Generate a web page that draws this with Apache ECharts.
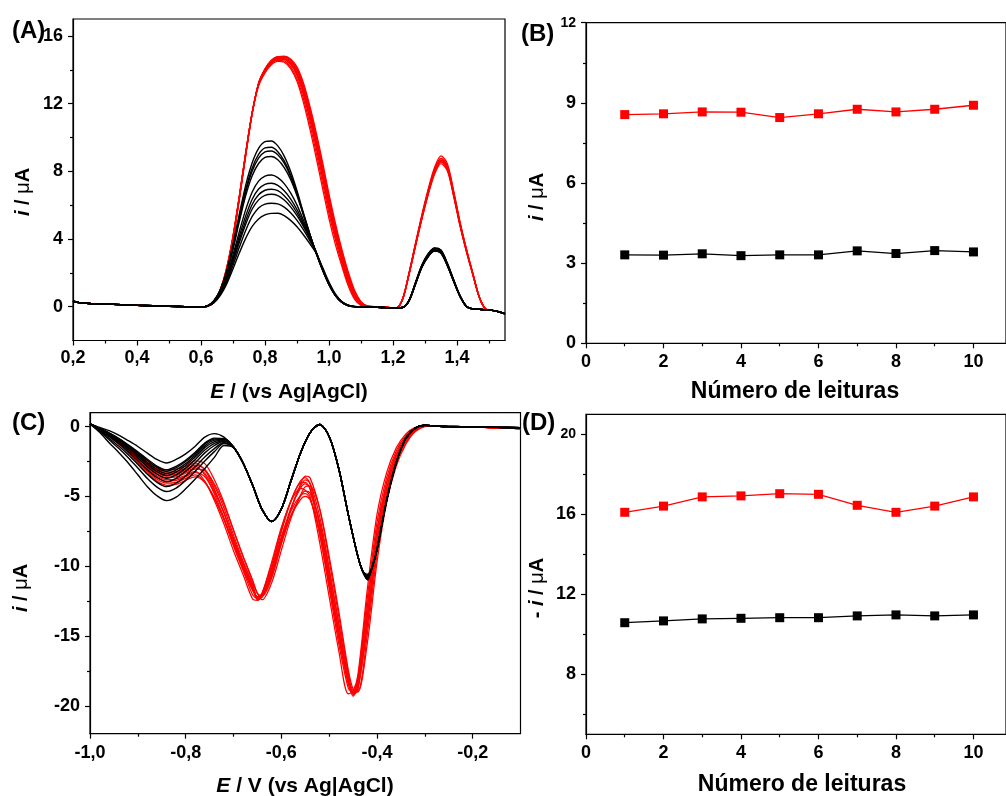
<!DOCTYPE html>
<html>
<head>
<meta charset="utf-8">
<script src="https://cdn.jsdelivr.net/npm/echarts@6/dist/echarts.min.js"></script>
<style>
  html, body { margin: 0; padding: 0; background: #fff; }
  #chart { width: 1006px; height: 796px; }
</style>
</head>
<body>
<div id="chart"></div>
<script>
// ---------- (A) anodic scans: potential grid pieces (V) ----------
const potA_lead = [0.20, 0.22, 0.25, 0.30, 0.35, 0.40, 0.45, 0.50, 0.55, 0.60];
const iA_lead   = [0.32, 0.24, 0.19, 0.15, 0.12, 0.08, 0.05, 0.02, 0.00, -0.02];
const potA_p1   = [0.62, 0.64, 0.66, 0.68, 0.70, 0.72, 0.74, 0.76, 0.78, 0.80, 0.82, 0.84, 0.86,
                   0.88, 0.90, 0.92, 0.94, 0.96, 0.98, 1.00, 1.02, 1.04, 1.06, 1.08, 1.10, 1.12];
const potA_gap  = [1.15, 1.18, 1.21];
const gapA_black = [-0.04, -0.06, -0.08];
const gapA_red   = [-0.01, -0.04, -0.08];
const potA_p2   = [1.23, 1.25, 1.27, 1.29, 1.31, 1.33, 1.35, 1.37, 1.39, 1.41, 1.43, 1.45, 1.47, 1.49];
const potA_tail = [1.51, 1.53, 1.55];
const iA_tail   = [-0.22, -0.30, -0.42];

// first oxidation peak, black scans
const blackA_p1 = [
  [0.04,0.35,1.00,2.10,3.70,5.50,7.20,8.50,9.35,9.75,9.79,9.50,8.90,8.00,6.85,5.55,4.30,3.15,2.15,1.30,0.65,0.25,0.07,0.00,-0.02,-0.03],
  [0.04,0.34,0.97,2.03,3.57,5.32,6.95,8.20,9.00,9.38,9.42,9.16,8.62,7.80,6.72,5.48,4.28,3.16,2.16,1.31,0.66,0.26,0.07,0.00,-0.02,-0.03],
  [0.04,0.33,0.95,1.98,3.48,5.20,6.80,8.02,8.78,9.15,9.20,8.98,8.48,7.70,6.66,5.46,4.28,3.17,2.17,1.31,0.66,0.26,0.07,0.00,-0.02,-0.03],
  [0.04,0.32,0.92,1.92,3.38,5.05,6.58,7.74,8.46,8.82,8.87,8.68,8.22,7.52,6.56,5.42,4.28,3.18,2.18,1.32,0.67,0.26,0.07,0.00,-0.02,-0.03],
  [0.03,0.29,0.84,1.75,3.05,4.45,5.75,6.78,7.42,7.72,7.78,7.63,7.27,6.72,6.00,5.12,4.18,3.20,2.20,1.33,0.67,0.27,0.07,0.00,-0.02,-0.03],
  [0.03,0.28,0.80,1.67,2.88,4.18,5.38,6.35,6.95,7.23,7.29,7.17,6.85,6.37,5.73,4.96,4.12,3.21,2.21,1.33,0.67,0.27,0.07,0.00,-0.02,-0.03],
  [0.03,0.27,0.77,1.60,2.74,3.97,5.11,6.04,6.61,6.88,6.94,6.85,6.56,6.12,5.55,4.84,4.07,3.22,2.22,1.34,0.68,0.27,0.07,0.00,-0.02,-0.03],
  [0.03,0.26,0.75,1.54,2.63,3.80,4.89,5.77,6.31,6.58,6.64,6.56,6.30,5.90,5.38,4.74,4.02,3.22,2.23,1.35,0.68,0.28,0.08,0.00,-0.02,-0.03],
  [0.03,0.24,0.70,1.44,2.44,3.52,4.52,5.33,5.83,6.06,6.11,6.07,5.88,5.55,5.10,4.55,3.90,3.20,2.25,1.38,0.70,0.28,0.08,0.01,-0.02,-0.03],
  [0.03,0.22,0.65,1.33,2.23,3.18,4.05,4.74,5.18,5.42,5.51,5.52,5.38,5.10,4.72,4.25,3.72,3.15,2.32,1.45,0.75,0.30,0.09,0.01,-0.02,-0.03]
];
// second oxidation peak, black scans
const blackA_p2 = [
  [-0.05,0.35,1.34,2.34,2.98,3.31,3.18,2.44,1.49,0.60,0.00,-0.14,-0.16,-0.18],
  [-0.05,0.34,1.33,2.33,2.97,3.30,3.17,2.43,1.49,0.59,0.00,-0.14,-0.16,-0.18],
  [-0.05,0.36,1.37,2.37,3.02,3.35,3.22,2.47,1.51,0.61,0.01,-0.14,-0.16,-0.18],
  [-0.05,0.33,1.31,2.31,2.95,3.28,3.16,2.42,1.48,0.59,0.00,-0.14,-0.16,-0.18],
  [-0.06,0.32,1.31,2.32,2.98,3.31,3.19,2.46,1.51,0.61,0.01,-0.14,-0.16,-0.18],
  [-0.04,0.38,1.38,2.37,3.00,3.31,3.17,2.42,1.47,0.58,-0.01,-0.14,-0.16,-0.18],
  [-0.05,0.37,1.41,2.45,3.12,3.46,3.33,2.55,1.56,0.62,0.01,-0.14,-0.16,-0.18],
  [-0.05,0.35,1.36,2.37,3.03,3.36,3.23,2.47,1.51,0.60,0.00,-0.14,-0.16,-0.18],
  [-0.05,0.36,1.40,2.45,3.13,3.47,3.34,2.56,1.57,0.63,0.01,-0.14,-0.16,-0.18],
  [-0.05,0.36,1.39,2.42,3.09,3.42,3.29,2.52,1.54,0.61,0.01,-0.14,-0.16,-0.18]
];
// first oxidation peak, red scans
const redA_p1 = [
  [0.02,0.26,0.98,2.25,4.15,6.55,9.10,11.45,13.08,13.85,14.35,14.55,14.53,14.17,13.47,12.30,10.80,9.10,7.30,5.50,3.96,2.56,1.37,0.52,0.10,0.00],
  [0.02,0.25,0.95,2.20,4.10,6.50,9.10,11.48,13.15,13.92,14.40,14.60,14.60,14.30,13.65,12.55,11.08,9.42,7.60,5.77,4.15,2.72,1.50,0.60,0.13,0.01],
  [0.02,0.25,0.95,2.20,4.10,6.50,9.10,11.48,13.18,13.96,14.45,14.65,14.65,14.40,13.80,12.70,11.27,9.63,7.84,6.00,4.35,2.90,1.65,0.70,0.18,0.02],
  [0.02,0.25,0.92,2.15,4.05,6.45,9.05,11.45,13.18,13.98,14.48,14.70,14.72,14.52,13.96,12.91,11.50,9.87,8.08,6.22,4.55,3.07,1.79,0.79,0.22,0.03],
  [0.02,0.24,0.90,2.12,4.00,6.40,9.00,11.42,13.20,14.02,14.53,14.73,14.75,14.58,14.07,13.08,11.70,10.09,8.31,6.44,4.74,3.24,1.93,0.88,0.26,0.04],
  [0.02,0.23,0.88,2.08,3.95,6.35,8.95,11.40,13.20,14.05,14.56,14.78,14.80,14.64,14.17,13.23,11.88,10.30,8.54,6.66,4.94,3.41,2.07,0.97,0.30,0.05],
  [0.03,0.27,1.00,2.30,4.20,6.60,9.15,11.45,13.05,13.82,14.30,14.50,14.45,14.07,13.32,12.07,10.52,8.80,6.98,5.20,3.67,2.40,1.23,0.43,0.07,0.00],
  [0.02,0.25,0.94,2.18,4.08,6.48,9.07,11.45,13.14,13.92,14.41,14.62,14.63,14.40,13.86,12.82,11.40,9.77,7.98,6.13,4.47,3.00,1.73,0.75,0.20,0.02],
  [0.02,0.25,0.96,2.22,4.12,6.52,9.12,11.50,13.18,13.97,14.47,14.68,14.66,14.37,13.74,12.60,11.14,9.48,7.67,5.83,4.20,2.78,1.56,0.64,0.15,0.01],
  [0.02,0.24,0.91,2.14,4.03,6.43,9.03,11.45,13.22,14.04,14.55,14.77,14.78,14.57,14.02,13.01,11.61,9.99,8.22,6.35,4.66,3.17,1.87,0.84,0.24,0.03]
];
// second oxidation peak, red scans
const redA_p2 = [
  [0.44,1.92,3.59,5.22,6.69,7.92,8.56,8.12,6.54,4.77,3.25,1.87,0.54,-0.15],
  [0.44,1.92,3.60,5.23,6.71,7.95,8.59,8.14,6.56,4.79,3.26,1.88,0.54,-0.15],
  [0.45,1.94,3.63,5.27,6.77,8.01,8.66,8.21,6.62,4.83,3.28,1.89,0.55,-0.15],
  [0.45,1.94,3.63,5.27,6.76,8.00,8.65,8.20,6.61,4.82,3.28,1.89,0.55,-0.15],
  [0.44,1.89,3.54,5.15,6.60,7.82,8.45,8.01,6.46,4.71,3.20,1.84,0.53,-0.15],
  [0.42,1.88,3.56,5.20,6.70,7.96,8.59,8.17,6.62,4.84,3.30,1.90,0.56,-0.14],
  [0.45,1.96,3.68,5.34,6.85,8.11,8.76,8.31,6.70,4.88,3.32,1.91,0.55,-0.15],
  [0.47,1.98,3.68,5.30,6.78,8.00,8.66,8.18,6.58,4.78,3.24,1.85,0.52,-0.16],
  [0.43,1.92,3.64,5.32,6.85,8.12,8.76,8.33,6.74,4.93,3.36,1.95,0.58,-0.14],
  [0.46,2.00,3.74,5.43,6.96,8.24,8.91,8.45,6.81,4.97,3.38,1.95,0.56,-0.15]
];

// ---------- (B) second anodic peak current per reading ----------
const readings    = [1, 2, 3, 4, 5, 6, 7, 8, 9, 10];
const peakB_red   = [8.56, 8.59, 8.66, 8.65, 8.45, 8.59, 8.76, 8.66, 8.76, 8.91];
const peakB_black = [3.31, 3.30, 3.35, 3.28, 3.31, 3.31, 3.46, 3.36, 3.47, 3.42];

// ---------- (C) cathodic scans ----------
const potC_lead = [-1.00,-0.98,-0.96,-0.94,-0.92,-0.90,-0.88,-0.86,-0.84,-0.82,-0.80,-0.78,-0.76,-0.74,-0.72,-0.70];
const blackC_lead = [
  [0.2,-0.05,-0.28,-0.60,-1.00,-1.42,-1.90,-2.35,-2.60,-2.35,-1.95,-1.40,-0.75,-0.50,-0.75,-1.45],
  [0.2,-0.12,-0.44,-0.83,-1.30,-1.80,-2.34,-2.83,-3.10,-2.85,-2.41,-1.84,-1.17,-0.82,-0.86,-1.46],
  [0.2,-0.13,-0.47,-0.88,-1.36,-1.87,-2.43,-2.93,-3.20,-2.95,-2.50,-1.92,-1.25,-0.88,-0.88,-1.46],
  [0.2,-0.15,-0.52,-0.95,-1.45,-1.98,-2.57,-3.07,-3.35,-3.10,-2.65,-2.05,-1.38,-0.97,-0.92,-1.46],
  [0.2,-0.17,-0.57,-1.02,-1.53,-2.10,-2.70,-3.22,-3.50,-3.25,-2.78,-2.18,-1.50,-1.07,-0.95,-1.47],
  [0.2,-0.19,-0.63,-1.11,-1.65,-2.25,-2.88,-3.41,-3.70,-3.45,-2.97,-2.36,-1.67,-1.19,-0.99,-1.47],
  [0.2,-0.23,-0.72,-1.23,-1.80,-2.44,-3.10,-3.65,-3.95,-3.70,-3.20,-2.58,-1.88,-1.35,-1.05,-1.48],
  [0.2,-0.27,-0.83,-1.39,-2.01,-2.70,-3.41,-3.99,-4.30,-4.05,-3.53,-2.88,-2.17,-1.57,-1.13,-1.48],
  [0.2,-0.32,-0.94,-1.55,-2.22,-2.96,-3.72,-4.33,-4.65,-4.40,-3.85,-3.19,-2.46,-1.79,-1.21,-1.49],
  [0.2,-0.40,-1.15,-1.85,-2.60,-3.45,-4.30,-4.95,-5.30,-5.05,-4.45,-3.75,-3.00,-2.20,-1.35,-1.50]
];
const potC_bk1 = [-0.68,-0.66,-0.64,-0.62,-0.60,-0.58,-0.56,-0.54,-0.52,-0.50,-0.48,-0.46,-0.44,-0.43];
const iC_bk1   = [-2.60,-4.20,-5.95,-6.80,-5.90,-3.90,-1.90,-0.45,0.15,-0.70,-3.00,-6.30,-9.30,-10.35];
const potC_bkMin = -0.42;
const potC_bk2 = [-0.41,-0.40,-0.38,-0.36,-0.34,-0.32,-0.30,-0.28,-0.25,-0.20,-0.15,-0.10];
const iC_bk2   = [-10.05,-8.80,-5.30,-2.60,-0.85,-0.10,0.10,0.05,0.00,-0.02,-0.05,-0.08];

const potC_red = [-1.00,-0.98,-0.96,-0.94,-0.92,-0.90,-0.88,-0.86,-0.84,-0.82,-0.80,-0.78,-0.76,-0.74,-0.72,-0.70,
                  -0.68,-0.66,-0.65,-0.64,-0.62,-0.60,-0.58,-0.56,-0.55,-0.54,-0.52,-0.50,-0.48,-0.46,-0.45,-0.44,
                  -0.42,-0.40,-0.38,-0.36,-0.34,-0.32,-0.30];
const redC = [
  [0.2,-0.13,-0.48,-0.92,-1.40,-1.92,-2.44,-2.88,-3.10,-3.06,-2.84,-2.45,-2.65,-3.81,-5.43,-7.41,-9.33,-11.05,-11.95,-12.15,-10.83,-8.35,-5.92,-4.12,-3.55,-3.67,-5.87,-9.58,-13.58,-17.64,-18.90,-18.92,-14.78,-9.14,-5.13,-2.64,-1.15,-0.30,0.03],
  [0.2,-0.14,-0.50,-0.96,-1.46,-2.01,-2.56,-3.02,-3.25,-3.20,-2.97,-2.60,-3.10,-4.46,-6.18,-8.18,-10.02,-11.66,-12.18,-11.95,-10.10,-7.56,-5.35,-3.88,-3.65,-4.10,-7.12,-11.04,-15.02,-18.45,-19.05,-18.25,-12.85,-7.43,-4.04,-1.98,-0.78,-0.15,0.06],
  [0.2,-0.14,-0.52,-0.99,-1.51,-2.08,-2.64,-3.12,-3.35,-3.30,-3.07,-2.75,-3.05,-4.23,-5.83,-7.77,-9.62,-11.28,-12.27,-12.20,-10.61,-8.16,-5.88,-4.27,-3.82,-4.04,-6.41,-10.13,-14.10,-18.04,-19.20,-18.87,-14.20,-8.57,-4.77,-2.42,-1.03,-0.25,0.04],
  [0.2,-0.15,-0.53,-1.02,-1.56,-2.14,-2.72,-3.21,-3.45,-3.40,-3.16,-2.85,-3.45,-4.83,-6.55,-8.51,-10.29,-12.05,-12.30,-11.90,-9.88,-7.37,-5.31,-4.03,-4.00,-4.48,-7.66,-11.59,-15.52,-18.73,-19.10,-18.04,-12.20,-6.86,-3.67,-1.76,-0.65,-0.10,0.07],
  [0.2,-0.15,-0.55,-1.05,-1.60,-2.20,-2.80,-3.30,-3.55,-3.50,-3.25,-2.95,-3.35,-4.56,-6.17,-8.08,-9.89,-11.50,-12.40,-12.20,-10.39,-7.97,-5.84,-4.41,-4.10,-4.41,-6.95,-10.68,-14.61,-18.32,-19.30,-18.66,-13.56,-8.00,-4.40,-2.20,-0.90,-0.20,0.05],
  [0.2,-0.15,-0.57,-1.08,-1.64,-2.26,-2.88,-3.39,-3.65,-3.60,-3.34,-3.05,-3.15,-4.12,-5.57,-7.42,-9.27,-11.00,-11.95,-12.40,-11.16,-8.86,-6.59,-4.92,-4.30,-4.25,-5.86,-9.29,-13.19,-17.42,-18.80,-19.02,-15.45,-9.71,-5.50,-2.86,-1.28,-0.35,0.00],
  [0.2,-0.16,-0.59,-1.12,-1.71,-2.35,-3.00,-3.53,-3.80,-3.75,-3.48,-3.20,-3.90,-5.29,-6.98,-8.89,-10.60,-12.35,-12.45,-11.95,-9.67,-7.22,-5.36,-4.42,-4.55,-4.98,-8.27,-12.18,-16.04,-19.15,-18.95,-17.80,-11.57,-6.29,-3.31,-1.54,-0.53,-0.05,0.07],
  [0.2,-0.16,-0.60,-1.15,-1.76,-2.42,-3.08,-3.63,-3.90,-3.85,-3.57,-3.30,-3.60,-4.67,-6.16,-7.99,-9.76,-11.33,-12.22,-12.15,-10.69,-8.40,-6.36,-4.99,-4.62,-4.76,-6.81,-10.33,-14.17,-17.95,-19.05,-18.75,-14.16,-8.57,-4.77,-2.42,-1.03,-0.25,0.04],
  [0.2,-0.17,-0.63,-1.20,-1.83,-2.51,-3.19,-3.77,-4.05,-3.99,-3.71,-3.45,-3.95,-5.14,-6.69,-8.52,-10.23,-11.75,-12.20,-11.95,-10.21,-7.90,-6.04,-4.92,-4.80,-5.14,-7.69,-11.33,-15.12,-18.39,-19.00,-18.17,-12.82,-7.43,-4.04,-1.98,-0.78,-0.15,0.06],
  [0.2,-0.18,-0.65,-1.24,-1.89,-2.60,-3.31,-3.90,-4.20,-4.14,-3.84,-3.60,-4.00,-5.08,-6.56,-8.34,-10.05,-11.56,-12.30,-12.10,-10.48,-8.24,-6.38,-5.22,-5.00,-5.22,-7.40,-10.90,-14.69,-18.23,-19.15,-18.54,-13.52,-8.00,-4.40,-2.20,-0.90,-0.20,0.05]
];
const potC_tail = [-0.28, -0.25, -0.20, -0.15, -0.10];
const iC_redTail = [0.06, 0.03, -0.02, -0.08, -0.15];

// ---------- (D) third cathodic peak current per reading ----------
const peakD_red   = [16.10, 16.41, 16.87, 16.92, 17.03, 17.00, 16.45, 16.10, 16.41, 16.87];
const peakD_black = [10.58, 10.67, 10.77, 10.80, 10.83, 10.83, 10.92, 10.97, 10.92, 10.97];

// ---------- tick values ----------
const ticksA_x = [0.2, 0.4, 0.6, 0.8, 1.0, 1.2, 1.4];
const minorA_x = [0.3, 0.5, 0.7, 0.9, 1.1, 1.3, 1.5];
const ticksA_y = [0, 4, 8, 12, 16];
const minorA_y = [2, 6, 10, 14];
const ticksB_x = [0, 2, 4, 6, 8, 10];
const minorB_x = [1, 3, 5, 7, 9];
const ticksB_y = [0, 3, 6, 9, 12];
const minorB_y = [1.5, 4.5, 7.5, 10.5];
const ticksC_x = [-1.0, -0.8, -0.6, -0.4, -0.2];
const minorC_x = [-0.9, -0.7, -0.5, -0.3];
const ticksC_y = [0, -5, -10, -15, -20];
const minorC_y = [-2.5, -7.5, -12.5, -17.5];
const ticksD_y = [8, 12, 16, 20];
const minorD_y = [6, 10, 14, 18];

// ---------- helpers ----------
const FONT = "'Liberation Sans', Arial, sans-serif";
const comma = v => v.toFixed(1).replace('.', ',');
const pairs = (xs, ys) => xs.map((x, i) => [x, ys[i]]);

function axisPair(kind, gridIndex, min, max, major, minor, fmt, margin, rich) {
  const position = kind === 'x' ? 'bottom' : 'left';
  return [
    {
      type: 'value', gridIndex, position, min, max,
      axisLine: { show: true, onZero: false, lineStyle: { color: '#000', width: 1.2 } },
      axisTick: { show: true, customValues: major, length: 5, lineStyle: { color: '#000', width: 1.2 } },
      axisLabel: { show: true, customValues: major, formatter: fmt, margin,
                   color: '#000', fontFamily: FONT, fontWeight: 'bold', fontSize: 18, rich },
      splitLine: { show: false }
    },
    {
      type: 'value', gridIndex, position, min, max,
      axisLine: { show: false, onZero: false },
      axisTick: { show: true, customValues: minor, length: 3, lineStyle: { color: '#000', width: 1.2 } },
      axisLabel: { show: false },
      splitLine: { show: false }
    }
  ];
}

function curve(data, color, xIdx, yIdx, width) {
  return {
    type: 'line', data, xAxisIndex: xIdx, yAxisIndex: yIdx,
    showSymbol: false, smooth: 0.3, silent: true,
    lineStyle: { color, width }
  };
}

function markLine(ys, color, xIdx, yIdx) {
  return {
    type: 'line', data: pairs(readings, ys), xAxisIndex: xIdx, yAxisIndex: yIdx,
    symbol: 'rect', symbolSize: 9, showSymbol: true, silent: true,
    itemStyle: { color }, lineStyle: { color, width: 1.3 }
  };
}

const smallTop = { s: { fontSize: 14, fontWeight: 'bold', fontFamily: FONT, color: '#000' } };

// ---------- axes ----------
const xAxes = [].concat(
  axisPair('x', 0, 0.2, 1.55, ticksA_x, minorA_x, comma, 9),
  axisPair('x', 1, 0, 10.84, ticksB_x, minorB_x, v => String(v), 10),
  axisPair('x', 2, -1.0, -0.1, ticksC_x, minorC_x, comma, 10),
  axisPair('x', 3, 0, 10.84, ticksB_x, minorB_x, v => String(v), 10)
);
const yAxes = [].concat(
  axisPair('y', 0, -2, 17, ticksA_y, minorA_y, v => String(v), 10),
  axisPair('y', 1, 0, 12, ticksB_y, minorB_y, v => (v === 12 ? '{s|12}' : String(v)), 10, smallTop),
  axisPair('y', 2, -22, 1, ticksC_y, minorC_y, v => String(v), 10),
  axisPair('y', 3, 5, 21, ticksD_y, minorD_y, v => (v === 20 ? '{s|20}' : String(v)), 10, smallTop)
);

// ---------- series ----------
const series = [];
// (A): red scans underneath, black on top
redA_p1.forEach((p1, k) => {
  const d = [].concat(pairs(potA_lead, iA_lead), pairs(potA_p1, p1), pairs(potA_gap, gapA_red),
                      pairs(potA_p2, redA_p2[k]), pairs(potA_tail, iA_tail));
  series.push(curve(d, '#ff0000', 0, 0, 1.25));
});
blackA_p1.forEach((p1, k) => {
  const d = [].concat(pairs(potA_lead, iA_lead), pairs(potA_p1, p1), pairs(potA_gap, gapA_black),
                      pairs(potA_p2, blackA_p2[k]), pairs(potA_tail, iA_tail));
  series.push(curve(d, '#000000', 0, 0, 1.4));
});
// (B)
series.push(markLine(peakB_black, '#000000', 2, 2));
series.push(markLine(peakB_red, '#ff0000', 2, 2));
// (C): red scans underneath, black on top
redC.forEach(r => {
  const d = [].concat(pairs(potC_red, r), pairs(potC_tail, iC_redTail));
  series.push(curve(d, '#ff0000', 4, 4, 1.25));
});
blackC_lead.forEach((lead, k) => {
  const d = [].concat(pairs(potC_lead, lead), pairs(potC_bk1, iC_bk1),
                      [[potC_bkMin, -peakD_black[k]]], pairs(potC_bk2, iC_bk2));
  series.push(curve(d, '#000000', 4, 4, 1.4));
});
// (D)
series.push(markLine(peakD_black, '#000000', 6, 6));
series.push(markLine(peakD_red, '#ff0000', 6, 6));

// ---------- text ----------
const titleRich = (size) => ({
  it: { fontStyle: 'italic', fontWeight: 'bold', fontSize: size, fontFamily: FONT, fill: '#000' },
  mu: { fontWeight: 'normal', fontSize: size, fontFamily: FONT, fill: '#000' }
});
function label(x, y, text, size, opts) {
  return Object.assign({
    type: 'text', x, y, silent: true,
    style: {
      text, fontSize: size, fontWeight: 'bold', fontFamily: FONT, fill: '#000',
      align: (opts && opts.align) || 'center', verticalAlign: 'middle', rich: titleRich(size)
    }
  }, opts && opts.rotation ? { rotation: opts.rotation } : {});
}

const graphics = [
  label(12, 31, '(A)', 24, { align: 'left' }),
  label(521, 34, '(B)', 24, { align: 'left' }),
  label(12, 423, '(C)', 24, { align: 'left' }),
  label(522, 423, '(D)', 24, { align: 'left' }),
  label(23, 192, '{it|i} / {mu|μ}A', 20, { rotation: Math.PI / 2 }),
  label(537, 197, '{it|i} / {mu|μ}A', 20, { rotation: Math.PI / 2 }),
  label(21, 588, '{it|i} / {mu|μ}A', 20, { rotation: Math.PI / 2 }),
  label(537, 588, '- {it|i} / {mu|μ}A', 20, { rotation: Math.PI / 2 }),
  label(289, 392, '{it|E} / (vs Ag|AgCl)', 21),
  label(305, 786, '{it|E} / V (vs Ag|AgCl)', 21),
  label(795, 392, 'Número de leituras', 23),
  label(802, 785, 'Número de leituras', 23)
];

const chart = echarts.init(document.getElementById('chart'), null, { renderer: 'canvas' });
chart.setOption({
  animation: false,
  backgroundColor: '#ffffff',
  grid: [
    { left: 73, top: 19, width: 432, height: 321.5, show: true, borderColor: '#000', borderWidth: 1.2 },
    { left: 586, top: 22.7, width: 424, height: 320.6, show: true, borderColor: '#000', borderWidth: 1.2 },
    { left: 90, top: 412.7, width: 430.5, height: 321, show: true, borderColor: '#000', borderWidth: 1.2 },
    { left: 586, top: 414.3, width: 424, height: 320, show: true, borderColor: '#000', borderWidth: 1.2 }
  ],
  xAxis: xAxes,
  yAxis: yAxes,
  series,
  graphic: graphics
});
</script>
</body>
</html>
